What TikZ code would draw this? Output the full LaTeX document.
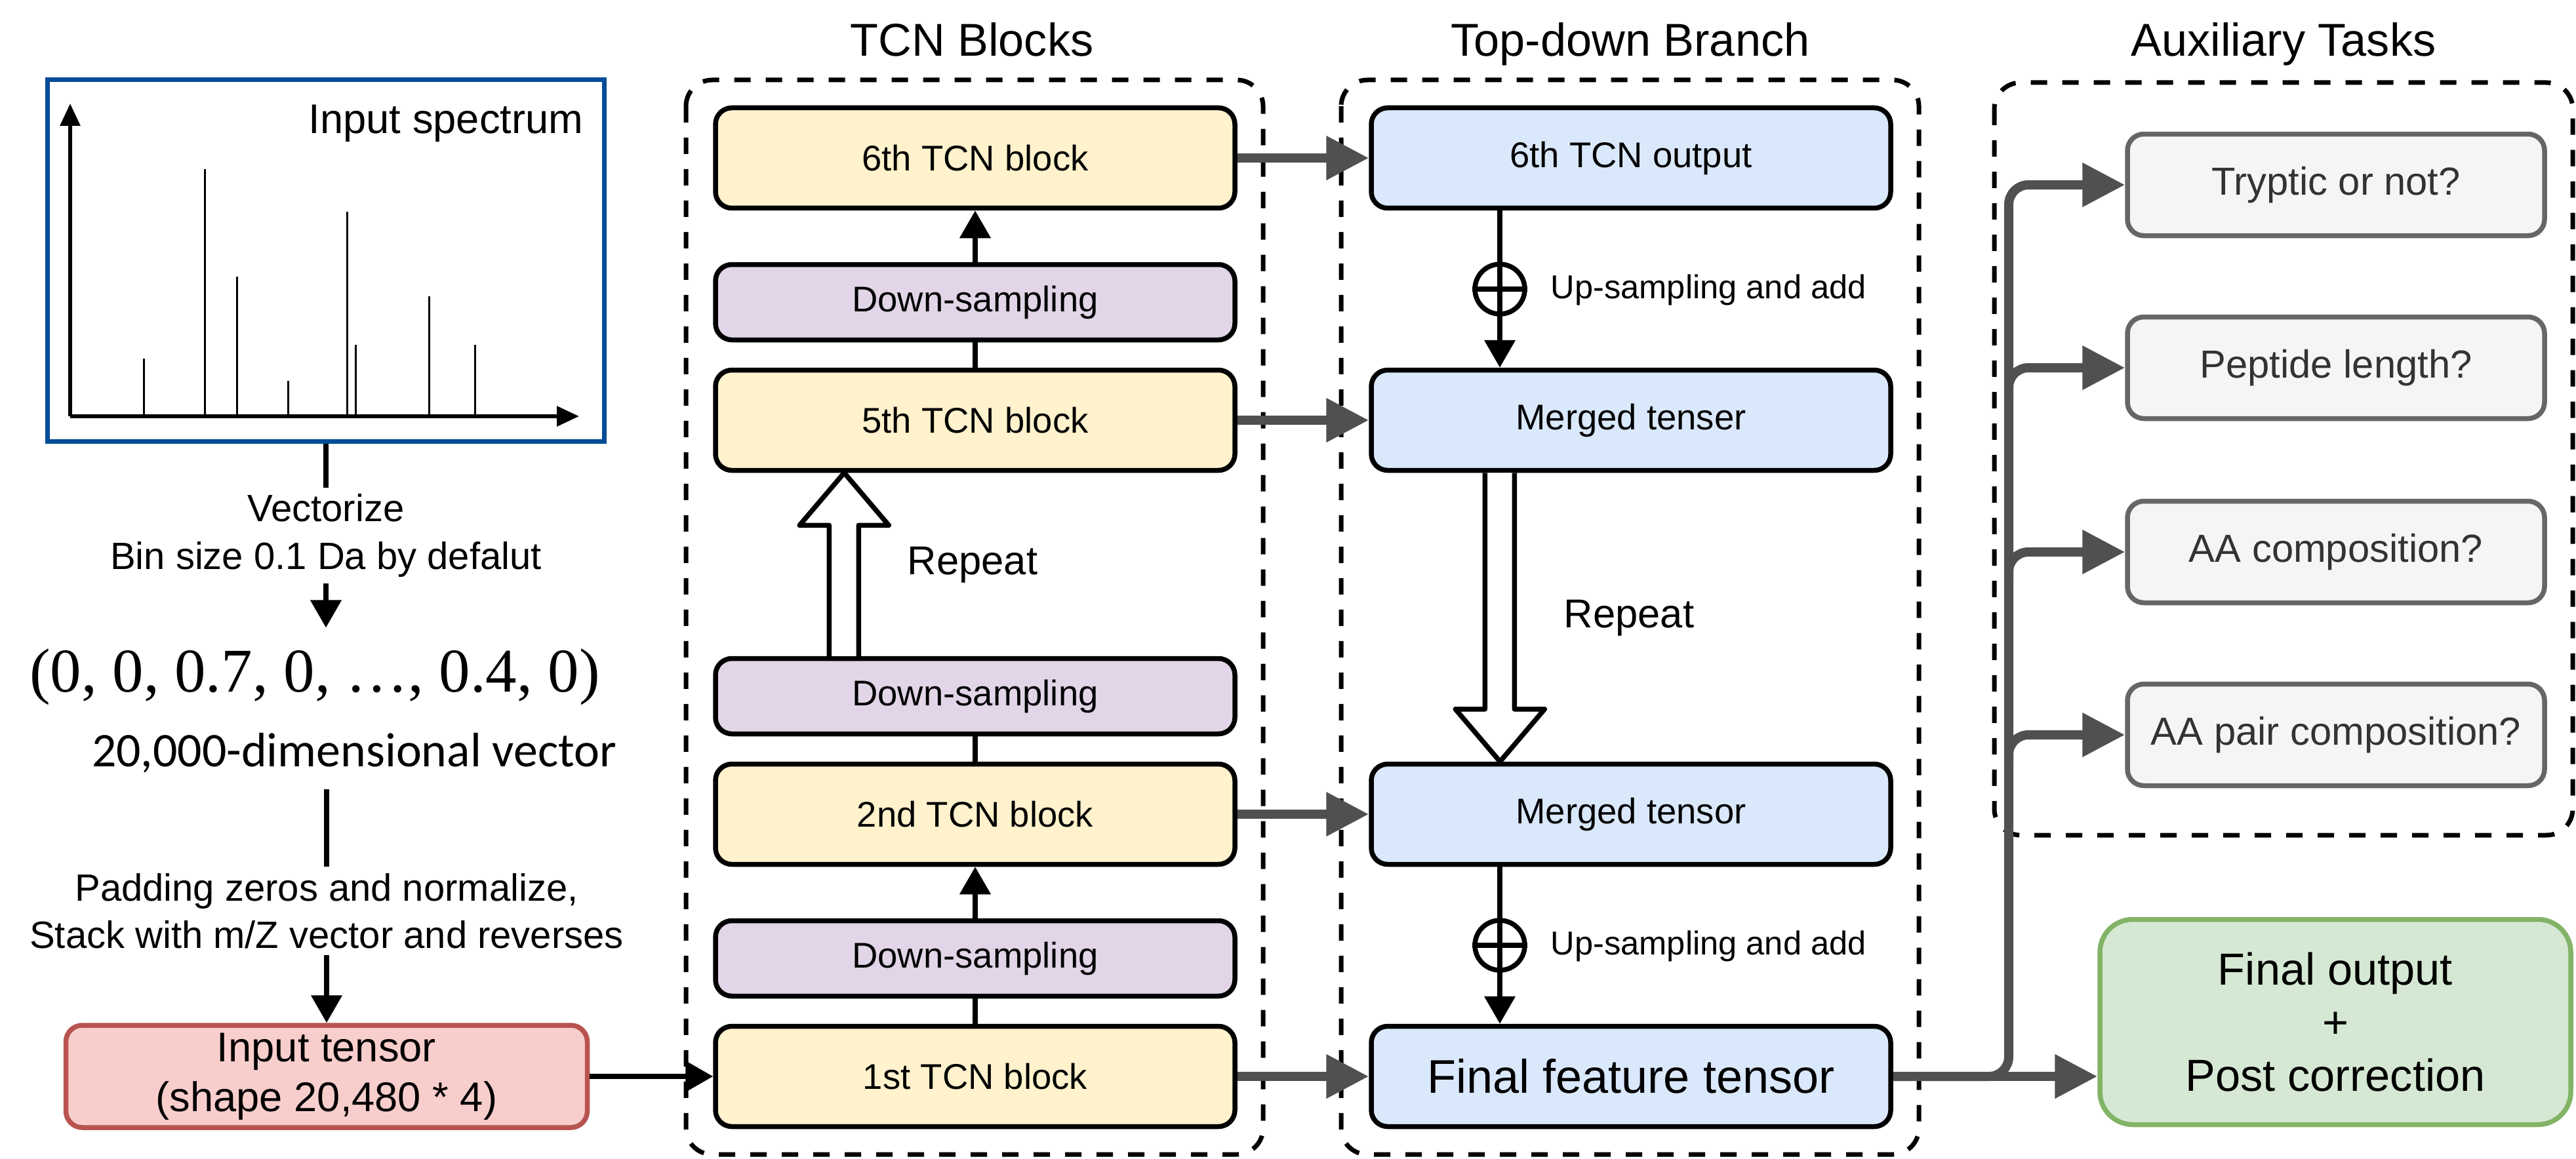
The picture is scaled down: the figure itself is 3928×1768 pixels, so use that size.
\documentclass[tikz,border=0pt]{standalone}
\usepackage{fontspec}
\setmainfont{Liberation Sans}
\newfontfamily\timesvec{Liberation Serif}
\newfontfamily\calibri{Carlito}
\usetikzlibrary{arrows.meta,calc}

\definecolor{tcnyellow}{HTML}{FFF2CC}
\definecolor{dspurple}{HTML}{E1D5E7}
\definecolor{tdblue}{HTML}{DAE8FC}
\definecolor{inred}{HTML}{F8CECC}
\definecolor{inredline}{HTML}{B85450}
\definecolor{outgreen}{HTML}{D5E8D4}
\definecolor{outgreenline}{HTML}{82B366}
\definecolor{taskgray}{HTML}{F5F5F5}
\definecolor{taskline}{HTML}{666666}
\definecolor{tasktext}{HTML}{333333}
\definecolor{specblue}{HTML}{004C99}
\definecolor{linkgray}{HTML}{505050}

\begin{document}
\begin{tikzpicture}[x=0.1mm,y=-0.1mm,
    box/.style={draw,line width=0.75mm,rounded corners=2.5mm,align=center,
      font=\fontsize{15.5}{18}\selectfont},
    tcn/.style={box,fill=tcnyellow,minimum width=79.2mm,minimum height=15.3mm},
    down/.style={box,fill=dspurple,minimum width=79.2mm,minimum height=11.5mm},
    td/.style={box,fill=tdblue,minimum width=79.2mm,minimum height=15.3mm},
    task/.style={box,fill=taskgray,draw=taskline,text=tasktext,
      minimum width=63.6mm,minimum height=15.5mm,font=\fontsize{17}{20}\selectfont},
    group/.style={draw,dash pattern=on 2.5mm off 2.3mm,line width=0.7mm,rounded corners=4mm},
    title/.style={anchor=base,font=\fontsize{20}{24}\selectfont},
    blk/.style={line width=0.75mm},
    blkarr/.style={blk,-{Triangle[length=4.2mm,width=4.6mm]}},
    garr/.style={draw=linkgray,line width=1.4mm,-{Triangle[length=6.5mm,width=6.4mm]}},
    hollow/.style={draw,fill=white,line width=0.75mm,line join=round},
    peak/.style={line width=0.3mm},
    note/.style={fill=white,inner sep=1mm,align=center,font=\fontsize{16.5}{20.5}\selectfont},
    addsign/.style={circle,draw,line width=0.75mm,minimum size=7.6mm,inner sep=0pt}
  ]
    \useasboundingbox (0,0) rectangle (3928,1768);
    %\draw[help lines] (0,0) grid[step=100] (3928,1768);
    \draw[group] (1046,122) rectangle (1926,1761);
    \draw[group] (2045,122) rectangle (2926,1761);
    \draw[group] (3041,126) rectangle (3923,1274);
    \node (ttcn) at (1482,86) [title] {TCN Blocks};
    \node (ttd) at (2486,86) [title] {Top-down Branch};
    \node (taux) at (3482,86) [title] {Auxiliary Tasks};

    % input side
    \node (spec) at (497,397) [draw=specblue,line width=0.7mm,minimum width=84.9mm,minimum height=55.2mm] {};
    \draw[line width=0.6mm,-{Triangle[length=3.4mm,width=3mm]}] (107,635) -- (107,158);
    \draw[line width=0.6mm,-{Triangle[length=3.4mm,width=3mm]}] (107,635) -- (883,635);
    \foreach \px/\py in {219/547,312/258,361/422,439/581,529/323,542/526,654/452,724/526}
      \draw[peak] (\px,635) -- (\px,\py);
    \node (speclab) at (890,204) [anchor=base east,inner sep=0pt,font=\fontsize{18}{21}\selectfont] {Input spectrum};
    \node (vec) at (480,1055) [anchor=base,inner sep=3.1mm,font=\timesvec\fontsize{27}{32}\selectfont] {(0, 0, 0.7, 0, …, 0.4, 0)};
    \node (dimtxt) at (540,1169) [anchor=base,inner sep=2.5mm,font=\calibri\fontsize{21}{25}\selectfont] {20,000-dimensional vector};
    \node (intensor) at (498,1642) [box,fill=inred,draw=inredline,minimum width=79.5mm,minimum height=15.5mm,
      font=\fontsize{18}{21.6}\selectfont] {Input tensor\\(shape 20,480 * 4)};
    \draw[blkarr] (spec.south) -- (spec.south |- vec.north)
      node[note,midway] {Vectorize\\Bin size 0.1 Da by defalut};
    \draw[blkarr] (intensor.north |- dimtxt.south) -- (intensor.north)
      node[note,pos=0.52] {Padding zeros and normalize,\\Stack with m/Z vector and reverses};

    % TCN blocks
    \node (blk6) at (1487,241) [tcn] {6th TCN block};
    \node (ds3) at (1487,461) [down] {Down-sampling};
    \node (blk5) at (1487,641) [tcn] {5th TCN block};
    \node (ds2) at (1487,1062) [down] {Down-sampling};
    \node (blk2) at (1487,1242) [tcn] {2nd TCN block};
    \node (ds1) at (1487,1462) [down] {Down-sampling};
    \node (blk1) at (1487,1642) [tcn] {1st TCN block};
    \draw[blkarr] (intensor) -- (blk1);
    \draw[blk] (blk1) -- (ds1);
    \draw[blkarr] (ds1) -- (blk2);
    \draw[blk] (blk2) -- (ds2);
    \draw[blk] (blk5) -- (ds3);
    \draw[blkarr] (ds3) -- (blk6);
    \draw[hollow] ($(ds2.north west)+(177,0)$) |- ($(blk5.south west)+(132,80)$)
      -- ($(blk5.south west)+(200,0)$) -- ($(blk5.south west)+(268,80)$) -| ($(ds2.north west)+(222,0)$);
    \node (rep1) at (1483,862) [font=\fontsize{17.5}{20}\selectfont] {Repeat};

    % top-down branch
    \node (out6) at (2487,241) [td] {6th TCN output};
    \node (mrg5) at (2487,641) [td] {Merged tenser};
    \node (mrg2) at (2487,1242) [td] {Merged tensor};
    \node (fft) at (2487,1642) [td,font=\fontsize{20.5}{24}\selectfont] {Final feature tensor};
    \node (add1) at (2287,441) [addsign] {};
    \node (add2) at (2287,1442) [addsign] {};
    \draw[blkarr] (out6.south -| add1) -- (mrg5.north -| add1);
    \draw[blkarr] (mrg2.south -| add2) -- (fft.north -| add2);
    \draw[blk] (add1.west) -- (add1.east);
    \draw[blk] (add2.west) -- (add2.east);
    \node (uplab1) at (2364,442) [anchor=west,inner sep=0pt,font=\fontsize{14.4}{17}\selectfont] {Up-sampling and add};
    \node (uplab2) at (2364,1443) [anchor=west,inner sep=0pt,font=\fontsize{14.4}{17}\selectfont] {Up-sampling and add};
    \draw[hollow] ($(mrg5.south west)+(177,0)$) |- ($(mrg2.north west)+(132,-80)$)
      -- ($(mrg2.north west)+(200,0)$) -- ($(mrg2.north west)+(268,-80)$) -| ($(mrg5.south west)+(222,0)$);
    \node (rep2) at (2484,943) [font=\fontsize{17.5}{20}\selectfont] {Repeat};
    \draw[garr] (blk6) -- (out6);
    \draw[garr] (blk5) -- (mrg5);
    \draw[garr] (blk2) -- (mrg2);
    \draw[garr] (blk1) -- (fft);

    % auxiliary tasks and output
    \node (tryp) at (3562,282) [task] {Tryptic or not?};
    \node (plen) at (3562,561) [task] {Peptide length?};
    \node (aacomp) at (3562,842) [task] {AA composition?};
    \node (aapair) at (3562,1121) [task] {AA pair composition?};
    \node (final) at (3561,1559) [box,fill=outgreen,draw=outgreenline,rounded corners=5mm,
      minimum width=71.8mm,minimum height=31.3mm,font=\fontsize{19.5}{23}\selectfont] {Final output\\+\\Post correction};
    \coordinate (bus) at (3063,1642);
    \draw[garr] (fft.east) -- (fft.east -| final.west);
    \draw[garr,rounded corners=3mm] (fft.east) -| (bus |- tryp.west) -- (tryp.west);
    \foreach \t in {plen,aacomp,aapair}
      \draw[garr,rounded corners=3mm] ($(bus |- \t.west)+(0,45)$) |- (\t.west);
  \end{tikzpicture}
\end{document}
